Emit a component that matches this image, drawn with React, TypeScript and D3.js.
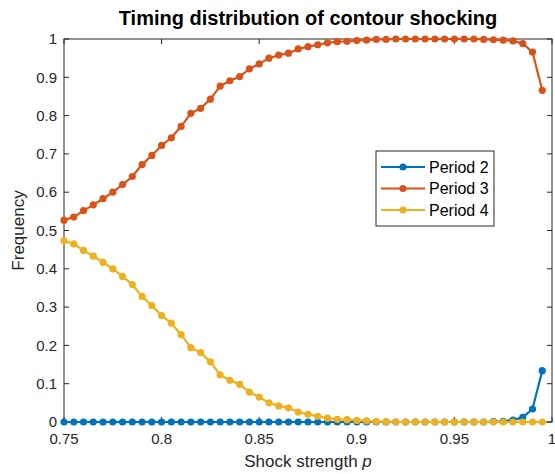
import React from "react";
import * as d3 from "d3";

const xValues: number[] = Array.from({ length: 50 }, (_, i) => +(0.75 + i * 0.005).toFixed(3));

const period2: number[] = [
  0, 0, 0, 0, 0, 0, 0, 0, 0, 0,
  0, 0, 0, 0, 0, 0, 0, 0, 0, 0,
  0, 0, 0, 0, 0, 0, 0, 0, 0, 0,
  0, 0, 0, 0, 0, 0, 0, 0, 0, 0,
  0, 0, 0, 0, 0.001, 0.002, 0.005, 0.012, 0.034, 0.134,
];

const period3: number[] = [
  0.527, 0.535, 0.552, 0.567, 0.583, 0.6, 0.62, 0.641, 0.672, 0.696,
  0.722, 0.742, 0.772, 0.806, 0.819, 0.843, 0.877, 0.891, 0.902, 0.922,
  0.935, 0.95, 0.958, 0.963, 0.974, 0.98, 0.985, 0.99, 0.993, 0.994,
  0.996, 0.997, 0.999, 0.999, 1, 1, 1, 1, 1, 1,
  1, 1, 1, 0.999, 0.998, 0.997, 0.995, 0.988, 0.966, 0.866,
];

const period4: number[] = [
  0.473, 0.465, 0.448, 0.433, 0.417, 0.4, 0.38, 0.359, 0.328, 0.304,
  0.278, 0.258, 0.228, 0.194, 0.181, 0.157, 0.123, 0.109, 0.098, 0.078,
  0.065, 0.05, 0.042, 0.037, 0.026, 0.02, 0.015, 0.01, 0.007, 0.006,
  0.004, 0.003, 0.001, 0.001, 0, 0, 0, 0, 0, 0,
  0, 0, 0, 0, 0, 0, 0, 0, 0, 0,
];

const seriesNames = ["Period 2", "Period 3", "Period 4"];
const seriesColors = ["#0072BD", "#D95319", "#EDB120"];
const xTicks = [0.75, 0.8, 0.85, 0.9, 0.95, 1];
const yTicks = [0, 0.1, 0.2, 0.3, 0.4, 0.5, 0.6, 0.7, 0.8, 0.9, 1];

const W = 555;
const H = 474;
const M = { left: 64, right: 552, top: 39, bottom: 422 };
const FONT = "'Liberation Sans', Arial, Helvetica, sans-serif";
const AX = "#262626";

export default function App() {
  const x = d3.scaleLinear().domain([0.75, 1]).range([M.left, M.right]);
  const y = d3.scaleLinear().domain([0, 1]).range([M.bottom, M.top]);
  const allSeries = [period2, period3, period4];
  const line = d3
    .line<number>()
    .x((_, i) => x(xValues[i]))
    .y((d) => y(d));

  const legX = 376;
  const legY = 151;
  const legW = 118;
  const legH = 75;

  return (
    <svg
      width={W}
      height={H}
      style={{ position: "absolute", left: 0, top: 0, background: "#fff" }}
    >
      <rect x={0} y={0} width={W} height={H} fill="#fff" />
      <rect
        x={M.left}
        y={M.top}
        width={M.right - M.left}
        height={M.bottom - M.top}
        fill="#fff"
        stroke={AX}
        strokeWidth={1}
      />
      {xTicks.map((t) => (
        <g key={"xt" + t}>
          <line x1={x(t)} x2={x(t)} y1={M.bottom} y2={M.bottom - 5} stroke={AX} />
          <line x1={x(t)} x2={x(t)} y1={M.top} y2={M.top + 5} stroke={AX} />
          <text
            x={x(t)}
            y={M.bottom + 22}
            textAnchor="middle"
            fontFamily={FONT}
            fontSize={15}
            fill={AX}
          >
            {String(t)}
          </text>
        </g>
      ))}
      {yTicks.map((t) => (
        <g key={"yt" + t}>
          <line x1={M.left} x2={M.left + 5} y1={y(t)} y2={y(t)} stroke={AX} />
          <line x1={M.right} x2={M.right - 5} y1={y(t)} y2={y(t)} stroke={AX} />
          <text
            x={M.left - 7}
            y={y(t)}
            dy="0.35em"
            textAnchor="end"
            fontFamily={FONT}
            fontSize={15}
            fill={AX}
          >
            {String(t)}
          </text>
        </g>
      ))}
      {allSeries.map((s, si) => (
        <g key={"s" + si}>
          <path d={line(s) || ""} fill="none" stroke={seriesColors[si]} strokeWidth={2.2} />
          {s.map((v, i) => (
            <circle key={i} cx={x(xValues[i])} cy={y(v)} r={3.6} fill={seriesColors[si]} />
          ))}
        </g>
      ))}
      <text
        x={(M.left + M.right) / 2}
        y={25}
        textAnchor="middle"
        fontFamily={FONT}
        fontSize={20}
        fontWeight="bold"
        fill="#000"
      >
        Timing distribution of contour shocking
      </text>
      <text
        x={(M.left + M.right) / 2}
        y={H - 7}
        textAnchor="middle"
        fontFamily={FONT}
        fontSize={17}
        fill={AX}
      >
        Shock strength <tspan fontStyle="italic">p</tspan>
      </text>
      <text
        transform={`translate(24, ${(M.top + M.bottom) / 2}) rotate(-90)`}
        textAnchor="middle"
        fontFamily={FONT}
        fontSize={17}
        fill={AX}
      >
        Frequency
      </text>
      <rect x={legX} y={legY} width={legW} height={legH} fill="#fff" stroke={AX} strokeWidth={1} />
      {seriesNames.map((n, i) => {
        const ly = legY + 16 + i * 21.5;
        return (
          <g key={n}>
            <line x1={legX + 5} x2={legX + 49} y1={ly} y2={ly} stroke={seriesColors[i]} strokeWidth={2.2} />
            <circle cx={legX + 27} cy={ly} r={3.6} fill={seriesColors[i]} />
            <text
              x={legX + 53}
              y={ly}
              dy="0.35em"
              fontFamily={FONT}
              fontSize={16}
              fill="#000"
            >
              {n}
            </text>
          </g>
        );
      })}
    </svg>
  );
}
